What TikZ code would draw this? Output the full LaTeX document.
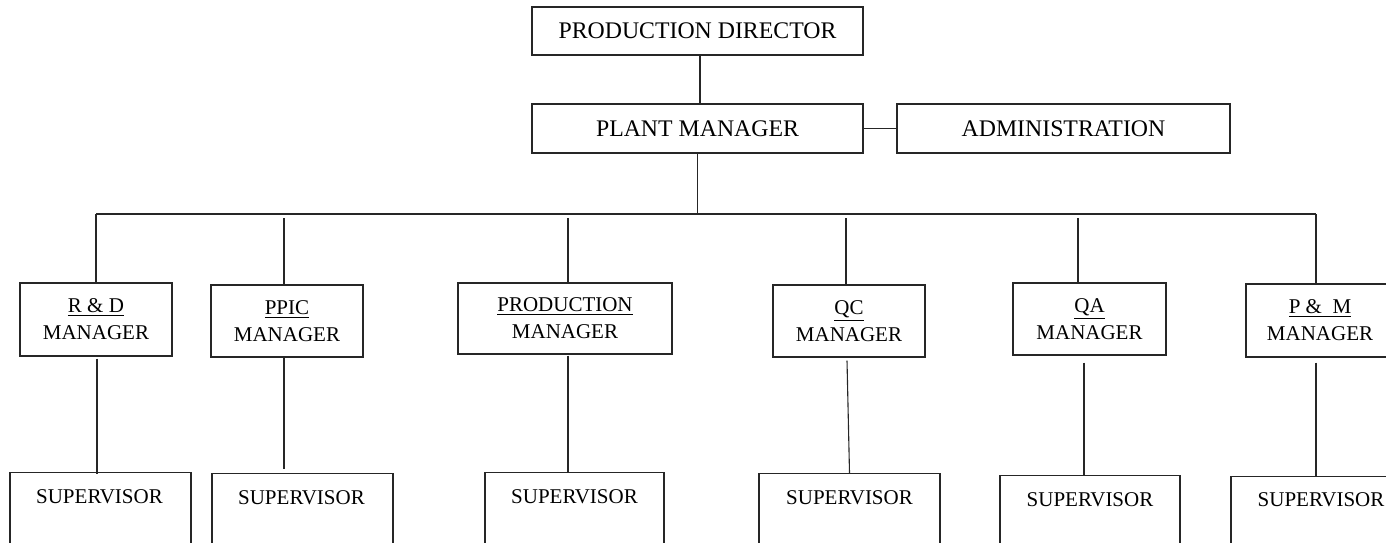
\documentclass[tikz,border=0pt]{standalone}
\usepackage{fontspec}
\setmainfont{Liberation Serif}
\begin{document}
\begin{tikzpicture}[x=0.5pt,y=-0.5pt,
  topbox/.style={draw=black!85, line width=0.55pt, inner sep=0pt, font=\fontsize{11.9}{14}\selectfont},
  mgrbox/.style={draw=black!85, line width=0.55pt, inner sep=0pt, align=center, font=\fontsize{10.5}{13.5}\selectfont},
  supbox/.style={draw=black!85, line width=0.55pt, inner sep=0pt, anchor=north, minimum height=70pt},
  suptext/.style={inner sep=0pt, font=\fontsize{10.5}{13.5}\selectfont},
  link/.style={draw=black!85, line width=0.55pt}]
\useasboundingbox (0,0) rectangle (1386,542);
\clip (0,0) rectangle (1386,542);

% top level
\node[topbox, minimum width=165.5pt, minimum height=24pt] (pd) at (697.5,31) {PRODUCTION DIRECTOR};
\node[topbox, minimum width=165.5pt, minimum height=24.5pt] (pm) at (697.5,128.5) {PLANT MANAGER};
\node[topbox, minimum width=166.5pt, minimum height=24.5pt] (adm) at (1063.5,128.5) {ADMINISTRATION};

% managers
\node[mgrbox, minimum width=76pt, minimum height=36.5pt] (rd) at (96,319.5) {\underline{R \& D}\\MANAGER};
\node[mgrbox, minimum width=76pt, minimum height=36pt] (ppic) at (287,321) {\underline{PPIC}\\MANAGER};
\node[mgrbox, minimum width=107pt, minimum height=35.5pt] (prod) at (565,318.5) {\underline{PRODUCTION}\\MANAGER};
\node[mgrbox, minimum width=76pt, minimum height=36pt] (qc) at (849,321) {\underline{QC}\\MANAGER};
\node[mgrbox, minimum width=76.5pt, minimum height=36pt] (qa) at (1089.5,319) {\underline{QA}\\MANAGER};
\node[mgrbox, minimum width=74pt, minimum height=36.5pt] (pmm) at (1320,320.5) {\underline{P \& \ M}\\MANAGER};

% supervisors
\node[supbox, minimum width=90.5pt] (s1) at (100.5,472) {};
\node[supbox, minimum width=90.5pt] (s2) at (302.5,473) {};
\node[supbox, minimum width=89.5pt] (s3) at (574.5,472) {};
\node[supbox, minimum width=90.5pt] (s4) at (849.5,473) {};
\node[supbox, minimum width=90pt] (s5) at (1090,475) {};
\node[supbox, minimum width=90pt] (s6) at (1321,476) {};
\node[suptext] (t1) at ([xshift=-0.5pt,yshift=-12.5pt]s1.north) {SUPERVISOR};
\node[suptext] (t2) at ([xshift=-0.5pt,yshift=-12.5pt]s2.north) {SUPERVISOR};
\node[suptext] (t3) at ([yshift=-12.5pt]s3.north) {SUPERVISOR};
\node[suptext] (t4) at ([yshift=-12.5pt]s4.north) {SUPERVISOR};
\node[suptext] (t5) at ([yshift=-12.5pt]s5.north) {SUPERVISOR};
\node[suptext] (t6) at ([yshift=-12pt]s6.north) {SUPERVISOR};

% bus
\coordinate (busL) at (96,214);
\coordinate (busR) at (1316,214);
\coordinate (bus2) at (0,218);

% connectors
\draw[link] ([xshift=1.25pt]pd.south) -- ([xshift=1.25pt]pd.south |- pm.north);
\draw[link] (pm.east) -- (adm.west);
\draw[link] (pm.south) -- (pm.south |- busL);
\draw[link] (busL) -- (busR);
\draw[link] (busL) -- (rd.north);
\draw[link] (busR) -- (busR |- pmm.north);
\draw[link] ([xshift=-1.5pt]ppic.north |- bus2) -- ([xshift=-1.5pt]ppic.north);
\draw[link] ([xshift=1.5pt]prod.north |- bus2) -- ([xshift=1.5pt]prod.north);
\draw[link] ([xshift=-1.5pt]qc.north |- bus2) -- ([xshift=-1.5pt]qc.north);
\draw[link] ([xshift=-5.75pt]qa.north |- bus2) -- ([xshift=-5.75pt]qa.north);

% manager to supervisor
\draw[link] ([xshift=0.5pt,yshift=-1pt]rd.south) -- ([xshift=0.5pt,yshift=-1pt]rd.south |- s1.north);
\draw[link] ([xshift=-1.5pt]ppic.south) -- ([xshift=-1.5pt,yshift=2pt]ppic.south |- s2.north);
\draw[link] ([xshift=1.5pt,yshift=-0.5pt]prod.south) -- ([xshift=1.5pt,yshift=-0.5pt]prod.south |- s3.north);
\draw[link] ([xshift=-1pt,yshift=-1.5pt]qc.south) -- (s4.north);
\draw[link] ([xshift=-2.75pt,yshift=-3.5pt]qa.south) -- ([xshift=-2.75pt]qa.south |- s5.north);
\draw[link] ([xshift=-2pt,yshift=-2.5pt]pmm.south) -- ([xshift=-2pt]pmm.south |- s6.north);
\end{tikzpicture}
\end{document}
